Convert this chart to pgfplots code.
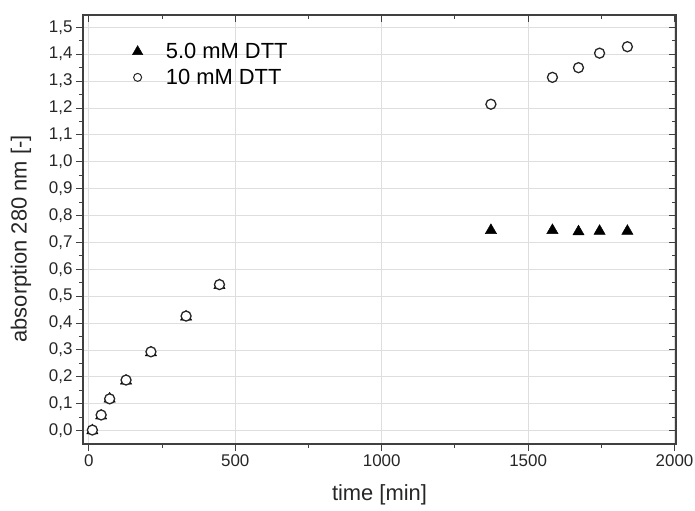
\documentclass[border=0pt]{standalone}
\usepackage{fontspec}
\setmainfont{Liberation Sans}
\usepackage{pgfplots}
\pgfplotsset{compat=1.18}
\usetikzlibrary{calc}
\begin{document}
\begin{tikzpicture}
\pgfplotsset{
 common/.style={
  scale only axis, width=593bp, height=429bp,
  xmin=-20, xmax=2005, ymin=-0.05, ymax=1.546,
  xtick={0,500,1000,1500,2000},
  ytick={0,0.1,0.2,0.3,0.4,0.5,0.6,0.7,0.8,0.9,1.0,1.1,1.2,1.3,1.4,1.5},
  minor x tick num=1, minor y tick num=1,
  at={(0,0)}, anchor=south west,
  axis line style={line width=1.2bp, color=black!75},
  major tick length=7bp, minor tick length=4bp,
  every tick/.style={line width=1bp, color=black!75},
  /pgf/number format/assume math mode=true,
 }
}
\begin{axis}[common,
  xtick pos=left, ytick pos=left, tick align=outside,
  grid=major, major grid style={color=black!13, line width=0.8bp},
  ticklabel style={font=\fontsize{17}{20}\selectfont, color=black!85},
  xticklabel style={/pgf/number format/1000 sep={}},
  yticklabel style={/pgf/number format/.cd, fixed, fixed zerofill, precision=1, use comma},
  xlabel={time [min]}, ylabel={absorption 280 nm [-]},
  label style={font=\fontsize{22}{26}\selectfont, color=black!85},
  xlabel style={at={($(rel axis cs:0.5,0)+(0,-51bp)$)}, anchor=center},
  ylabel style={at={($(rel axis cs:0,0.478)+(-62bp,0)$)}, anchor=center},
  legend style={draw=none, fill=none, at={(0.078,0.944)}, anchor=north west,
    font=\fontsize{22}{26}\selectfont, row sep=5bp,
    /tikz/every odd column/.append style={column sep=21bp}},
  legend cell align=left,
]
\addplot[only marks, mark=triangle*, mark size=6.5bp, color=black,
  legend image code/.code={\draw[mark size=6bp, mark=triangle*, black] plot coordinates {(0cm,0cm)};}] coordinates {
 (12,0.0) (42,0.055) (71,0.118) (127,0.185) (212,0.29) (332,0.423) (446,0.54)
 (1373,0.745) (1583,0.745) (1672,0.740) (1744,0.742) (1839,0.742)};
\addlegendentry{5.0 mM DTT}
\addplot[only marks, mark=*, mark size=5bp, mark options={fill=white, draw=black!85, line width=1.3bp},
  legend image code/.code={\draw[mark size=4bp, mark=*, mark options={fill=white, draw=black!85, line width=1bp}] plot coordinates {(0cm,0cm)};}] coordinates {
 (12,0.002) (42,0.058) (71,0.118) (127,0.188) (212,0.293) (332,0.426) (446,0.543)
 (1373,1.214) (1583,1.314) (1672,1.350) (1744,1.404) (1839,1.428)};
\addlegendentry{10 mM DTT}
\end{axis}
\begin{axis}[common,
  xtick pos=right, ytick pos=right, tick align=inside,
  xticklabels={}, yticklabels={},
]
\end{axis}
\pgfresetboundingbox
\path[use as bounding box] (-83bp,-67bp) rectangle (612bp,444bp);
\end{tikzpicture}
\end{document}
